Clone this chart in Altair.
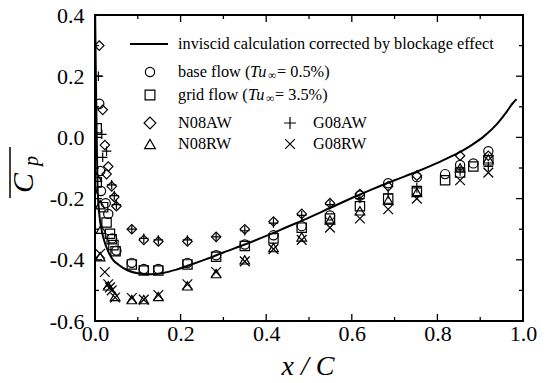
import altair as alt
import pandas as pd

# ---------------- data ----------------
curve_x = [0.0, 0.002, 0.004, 0.006, 0.010, 0.015, 0.020, 0.030, 0.042, 0.055, 0.077, 0.10, 0.13,
           0.16, 0.19, 0.22, 0.26, 0.30, 0.35, 0.40, 0.45, 0.50, 0.55, 0.60, 0.65, 0.70, 0.75,
           0.80, 0.85, 0.88, 0.91, 0.94, 0.96, 0.975, 0.985]
curve_cp = [0.45, 0.20, 0.0, -0.16, -0.25, -0.30, -0.33, -0.37, -0.40, -0.416, -0.435, -0.444, -0.447,
            -0.443, -0.432, -0.418, -0.398, -0.376, -0.35, -0.322, -0.292, -0.262, -0.23, -0.198, -0.168,
            -0.14, -0.113, -0.083, -0.05, -0.025, 0.005, 0.045, 0.08, 0.11, 0.125]

stations = [0.086, 0.114, 0.148, 0.216, 0.283, 0.350, 0.417, 0.483, 0.549, 0.619, 0.685, 0.752, 0.853, 0.919]
stations_base = [0.086, 0.114, 0.148, 0.216, 0.283, 0.350, 0.417, 0.483, 0.549, 0.619, 0.685, 0.752,
                 0.818, 0.853, 0.884, 0.919]

base_x = [0.010, 0.012, 0.014, 0.025, 0.031, 0.040, 0.050] + stations_base
base_cp = [0.11, -0.11, -0.175, -0.215, -0.25, -0.33, -0.37,
           -0.41, -0.43, -0.43, -0.41, -0.385, -0.35, -0.32, -0.29, -0.255, -0.19, -0.15, -0.13,
           -0.12, -0.09, -0.085, -0.045]

grid_x = [0.004, 0.004, 0.019, 0.027, 0.035, 0.039, 0.043, 0.048] + stations_base
grid_cp = [0.03, -0.147, -0.228, -0.278, -0.315, -0.333, -0.352, -0.372,
           -0.415, -0.435, -0.435, -0.415, -0.39, -0.355, -0.33, -0.295, -0.265, -0.225, -0.20, -0.175,
           -0.14, -0.115, -0.095, -0.075]

n08aw_x = [0.010, 0.018, 0.023, 0.027, 0.031, 0.039, 0.045, 0.050] + stations
n08aw_cp = [0.30, 0.09, -0.025, -0.12, -0.095, -0.16, -0.195, -0.225,
            -0.30, -0.335, -0.34, -0.34, -0.325, -0.30, -0.275, -0.25, -0.215, -0.185, -0.16, -0.125,
            -0.06, -0.06]

g08aw_x = [0.008, 0.016, 0.018, 0.027, 0.039, 0.045, 0.050] + stations
g08aw_cp = [0.20, 0.01, -0.065, -0.045, -0.155, -0.19, -0.22,
            -0.30, -0.33, -0.335, -0.335, -0.325, -0.305, -0.28, -0.255, -0.22, -0.20, -0.185, -0.165,
            -0.11, -0.095]

n08rw_x = [0.004, 0.012, 0.014, 0.012, 0.031, 0.047] + stations
n08rw_cp = [-0.13, -0.22, -0.30, -0.39, -0.485, -0.52,
            -0.53, -0.53, -0.52, -0.485, -0.445, -0.40, -0.36, -0.325, -0.27, -0.24, -0.205, -0.18,
            -0.10, -0.07]

g08rw_x = [0.012, 0.023, 0.031, 0.035, 0.039, 0.047] + stations
g08rw_cp = [-0.38, -0.44, -0.48, -0.49, -0.50, -0.523,
            -0.525, -0.53, -0.515, -0.48, -0.44, -0.405, -0.365, -0.335, -0.295, -0.265, -0.235, -0.20,
            -0.14, -0.115]

series_names = ["base", "grid", "N08AW", "G08AW", "N08RW", "G08RW"]
x_major = [0.0, 0.2, 0.4, 0.6, 0.8, 1.0]
x_minor = [0.1, 0.3, 0.5, 0.7, 0.9]
y_major = [-0.6, -0.4, -0.2, 0.0, 0.2, 0.4]
y_minor = [-0.5, -0.3, -0.1, 0.1, 0.3]

# ---------------- build tables ----------------
W, H = 428, 306
FONT = "Liberation Serif"
PLUS = "M-1,0L1,0M0,-1L0,1"
CROSS = "M-1,-1L1,1M-1,1L1,-1"

rows = []
for name, xs_, ys_ in [("base", base_x, base_cp), ("grid", grid_x, grid_cp),
                       ("N08AW", n08aw_x, n08aw_cp), ("G08AW", g08aw_x, g08aw_cp),
                       ("N08RW", n08rw_x, n08rw_cp), ("G08RW", g08rw_x, g08rw_cp)]:
    for a, b in zip(xs_, ys_):
        rows.append({"x": a, "cp": b, "s": name})
pts = pd.DataFrame(rows)
curve = pd.DataFrame({"x": curve_x, "cp": curve_cp})

xs = alt.Scale(domain=[0, 1], nice=False, zero=False)
ys = alt.Scale(domain=[-0.6, 0.4], nice=False, zero=False)

label_expr = "replace(format(datum.value, '.1f'), '\u2212', '-')"
ax_x = alt.Axis(values=x_major, labelExpr=label_expr, title=None, labelFlush=False,
                labelPadding=2, labelOverlap=False)
ax_y = alt.Axis(values=y_major, labelExpr=label_expr, title=None, labelPadding=11, labelOverlap=False)

shape_scale = alt.Scale(domain=series_names,
                        range=["circle", "square", "diamond", PLUS, "triangle-up", CROSS])
size_scale = alt.Scale(domain=series_names, range=[85, 95, 140, 140, 115, 95])

line = alt.Chart(curve).mark_line(color="black", strokeWidth=2, interpolate="monotone", clip=True).encode(
    x=alt.X("x:Q", scale=xs, axis=ax_x),
    y=alt.Y("cp:Q", scale=ys, axis=ax_y),
    order="x:Q",
)

points = alt.Chart(pts).mark_point(filled=False, color="black", strokeWidth=1.2, opacity=1, clip=True).encode(
    x=alt.X("x:Q", scale=xs, axis=ax_x),
    y=alt.Y("cp:Q", scale=ys, axis=ax_y),
    shape=alt.Shape("s:N", scale=shape_scale, legend=None),
    size=alt.Size("s:N", scale=size_scale, legend=None),
)

def xticks(vals, length):
    d = pd.DataFrame({"x": vals})
    bot = alt.Chart(d).mark_rule(color="black", strokeWidth=1.3).encode(
        x=alt.X("x:Q", scale=xs, axis=ax_x), y=alt.value(H), y2=alt.value(H - length))
    top = alt.Chart(d).mark_rule(color="black", strokeWidth=1.3).encode(
        x=alt.X("x:Q", scale=xs, axis=ax_x), y=alt.value(0), y2=alt.value(length))
    return [bot, top]

def yticks(vals, length):
    d = pd.DataFrame({"cp": vals})
    left = alt.Chart(d).mark_rule(color="black", strokeWidth=1.3).encode(
        y=alt.Y("cp:Q", scale=ys, axis=ax_y), x=alt.value(0), x2=alt.value(length))
    right = alt.Chart(d).mark_rule(color="black", strokeWidth=1.3).encode(
        y=alt.Y("cp:Q", scale=ys, axis=ax_y), x=alt.value(W), x2=alt.value(W - length))
    return [left, right]

one = pd.DataFrame({"a": [0]})

def txt(x, y, s, size=16.3, style="normal", align="left", angle=0):
    kw = dict(text=s, font=FONT, fontSize=size, fontStyle=style, align=align,
              baseline="middle", color="black")
    if angle:
        kw["angle"] = angle
    return alt.Chart(one).mark_text(**kw).encode(x=alt.value(x), y=alt.value(y))

def sym(x, y, shape, size):
    return alt.Chart(one).mark_point(filled=False, color="black", strokeWidth=1.2, opacity=1).encode(
        x=alt.value(x), y=alt.value(y), shape=alt.value(shape), size=alt.value(size))

legend = [
    alt.Chart(one).mark_rule(color="black", strokeWidth=2).encode(
        x=alt.value(35), x2=alt.value(73), y=alt.value(29)),
    txt(83, 29, "inviscid calculation corrected by blockage effect"),
    sym(55, 57, "circle", 85),
    txt(83, 57, "base flow ("), txt(155, 57, "Tu", style="italic"), txt(173, 61, "\u221e", size=11.5),
    txt(182, 57, "= 0.5%)"),
    sym(55, 80, "square", 95),
    txt(83, 80, "grid flow ("), txt(153, 80, "Tu", style="italic"), txt(171, 84, "\u221e", size=11.5),
    txt(180, 80, "= 3.5%)"),
    sym(55, 108, "diamond", 140), txt(83, 108, "N08AW"),
    sym(55, 129, "triangle-up", 115), txt(83, 129, "N08RW"),
    sym(195, 108, PLUS, 140), txt(218, 108, "G08AW"),
    sym(195, 129, CROSS, 95), txt(218, 129, "G08RW"),
]

titles = [
    txt(213, 352, "x / C", size=28, style="italic", align="center"),
    txt(-71, 168, "C", size=30, style="italic", align="center", angle=270),
    txt(-63, 146, "p", size=20, style="italic", align="center", angle=270),
    alt.Chart(one).mark_rule(color="black", strokeWidth=1.5).encode(
        x=alt.value(-85), y=alt.value(132), y2=alt.value(183)),
]

layers = [line, points] + xticks(x_major, 7) + xticks(x_minor, 4) + yticks(y_major, 7) + yticks(y_minor, 4) \
    + legend + titles

chart = alt.layer(*layers).properties(
    width=W, height=H,
    autosize=alt.AutoSizeParams(type="none"),
    padding={"left": 95, "top": 15, "right": 25, "bottom": 62},
    background="white",
).configure_view(stroke="black", strokeWidth=2).configure_axis(
    labelFont=FONT, labelFontSize=22, labelColor="black", ticks=False, domain=False, grid=False
)

chart.save("out.html", embed_options={"renderer": "svg", "actions": False})
